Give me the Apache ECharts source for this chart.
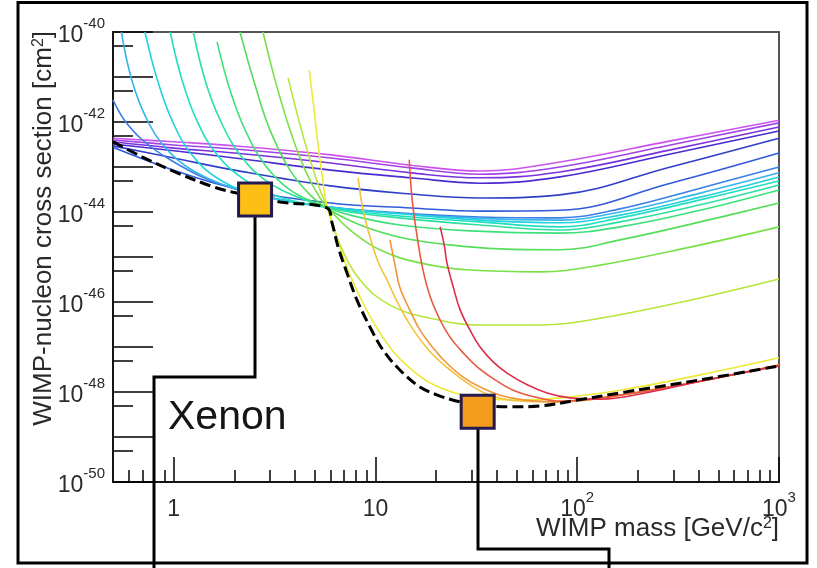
<!DOCTYPE html>
<html><head><meta charset="utf-8">
<script src="https://cdn.jsdelivr.net/npm/echarts@6/dist/echarts.min.js"></script>
<style>html,body{margin:0;padding:0;background:#fff}#c{width:817px;height:568px}</style>
</head><body><div id="c"></div>
<script>
const FONT = '"Liberation Sans", Arial, Helvetica, sans-serif';

// ---- axis ticks / labels (mass in GeV/c^2, cross section exponent log10(cm^2)) ----
const xRange = [0.5, 1000];
const yRangeExp = [-50, -40];
const xMajorTicks = [1, 10, 100, 1000];
const xTickLabels = ['{b|1}', '{b|10}', '{b|10}{s|2}', '{b|10}{s|3}'];
const xMinorTicks = [0.6,0.7,0.8,0.9,2,3,4,5,6,7,8,9,20,30,40,50,60,70,80,90,200,300,400,500,600,700,800,900];
const yMajorExp = [-50,-49,-48,-47,-46,-45,-44,-43,-42,-41,-40];
const yLabelExp = [-50,-48,-46,-44,-42,-40];
const yMinorSigma = [5e-50,5e-49,5e-48,5e-47,5e-46,5e-45,5e-44,5e-43,5e-42,5e-41];

// ---- curves: [mass GeV, log10(sigma / cm^2)] ----
const f1 = [[0.5,-42.36],[1,-42.44],[2,-42.53],[6,-42.73],[15,-42.96],[33,-43.09],[82,-42.89],[290,-42.42],[1000,-41.96]];
const f2 = [[0.5,-42.40],[1,-42.51],[2,-42.60],[6,-42.80],[15,-43.02],[33,-43.16],[82,-43.00],[290,-42.51],[1000,-42.02]];
const f3 = [[0.5,-42.44],[1,-42.58],[2,-42.69],[6,-42.91],[15,-43.13],[33,-43.24],[82,-43.11],[290,-42.62],[1000,-42.11]];
const f4 = [[0.5,-42.49],[1,-42.64],[2,-42.80],[6,-43.07],[15,-43.24],[33,-43.36],[82,-43.22],[290,-42.71],[1000,-42.20]];
const f5 = [[0.5,-42.53],[1,-42.80],[2,-43.07],[6,-43.42],[15,-43.60],[33,-43.69],[82,-43.62],[290,-43.00],[1000,-42.36]];
const f6 = [[0.5,-42.56],[1,-43.07],[2,-43.47],[6,-43.80],[15,-43.91],[33,-43.98],[82,-43.96],[290,-43.36],[1000,-42.69]];
const b1 = [[0.5,-41.51],[0.57,-41.96],[0.7,-42.40],[0.96,-42.84],[1.5,-43.29],[2.7,-43.64],[6,-43.89],[13,-44.02],[33,-44.11],[82,-44.13],[163,-43.93],[407,-43.47],[1000,-43.00]];
const c1 = [[0.55,-40.00],[0.62,-41.07],[0.74,-41.96],[0.93,-42.62],[1.28,-43.11],[2.13,-43.51],[4.2,-43.80],[10.5,-44.00],[29,-44.13],[82,-44.18],[163,-44.00],[407,-43.58],[1000,-43.13]];
const t1 = [[0.72,-40.00],[0.83,-41.07],[0.98,-41.96],[1.23,-42.73],[1.7,-43.29],[2.68,-43.64],[5.3,-43.87],[13.2,-44.04],[33,-44.18],[82,-44.24],[163,-44.07],[407,-43.67],[1000,-43.22]];
const t2 = [[0.96,-40.00],[1.1,-41.07],[1.3,-41.96],[1.64,-42.73],[2.26,-43.29],[3.37,-43.67],[6,-43.91],[13.2,-44.09],[33,-44.22],[82,-44.33],[163,-44.13],[407,-43.73],[1000,-43.31]];
const t3 = [[1.25,-40.00],[1.43,-41.07],[1.7,-41.96],[2.13,-42.73],[2.84,-43.29],[4.23,-43.69],[6.7,-43.96],[13.2,-44.13],[33,-44.29],[82,-44.40],[163,-44.22],[407,-43.84],[1000,-43.40]];
const g1 = [[1.64,-40.22],[1.9,-41.29],[2.26,-42.18],[2.84,-42.96],[3.77,-43.51],[5.31,-43.84],[7.5,-44.07],[13.2,-44.29],[29.4,-44.42],[82,-44.47],[163,-44.33],[407,-43.96],[1000,-43.51]];
const g2 = [[2.13,-40.00],[2.53,-41.18],[3.0,-42.18],[3.77,-43.07],[4.74,-43.62],[5.96,-43.96],[8.39,-44.29],[13.2,-44.56],[23.4,-44.73],[41.5,-44.82],[82,-44.84],[163,-44.62],[407,-44.22],[1000,-43.80]];
const g3 = [[2.77,-40.00],[3.18,-41.07],[3.77,-42.18],[4.48,-43.07],[5.31,-43.69],[5.96,-43.96],[7.48,-44.40],[10.5,-44.84],[16.6,-45.13],[29.4,-45.29],[65.5,-45.33],[130,-45.18],[363,-44.78],[1000,-44.33]];
const yg1 = [[3.69,-41.02],[4.23,-42.07],[4.74,-42.84],[5.31,-43.51],[5.75,-43.89],[6.68,-44.73],[8.39,-45.51],[11.8,-46.07],[18.7,-46.36],[33,-46.51],[65.5,-46.51],[130,-46.36],[363,-45.96],[1000,-45.49]];
const y1 = [[4.69,-40.84],[4.96,-41.73],[5.19,-42.51],[5.44,-43.18],[5.75,-43.89],[6.16,-44.29],[6.68,-44.80],[7.48,-45.40],[8.39,-45.89],[9.95,-46.51],[12.1,-47.07],[14.8,-47.47],[18.7,-47.80],[24.8,-48.02],[33,-48.13],[52,-48.18],[82,-48.13],[163,-47.96],[407,-47.62],[1000,-47.24]];
const o1 = [[8.2,-43.24],[8.68,-43.96],[9.4,-44.56],[10.3,-45.11],[11.4,-45.51],[13.2,-46.11],[15.4,-46.62],[18.7,-47.11],[23.4,-47.51],[29.4,-47.84],[37,-48.07],[52,-48.20],[82,-48.22],[163,-48.07],[407,-47.76],[1000,-47.40]];
const o2 = [[11.8,-44.62],[12.5,-45.18],[13.2,-45.67],[14.8,-46.18],[16.6,-46.62],[19.3,-47.02],[22.6,-47.36],[27.2,-47.67],[33,-47.89],[41.5,-48.07],[55.2,-48.18],[82,-48.22],[163,-48.07],[407,-47.76],[1000,-47.40]];
const r1 = [[14.7,-42.84],[15.2,-43.73],[16.1,-44.56],[17.2,-45.29],[18.7,-45.89],[20.9,-46.40],[23.4,-46.78],[27.2,-47.13],[31.9,-47.44],[39.2,-47.73],[48.1,-47.96],[61.8,-48.11],[82,-48.20],[163,-48.07],[407,-47.76],[1000,-47.40]];
const r2 = [[20.9,-44.33],[21.9,-44.73],[22.6,-45.13],[24.3,-45.67],[26.3,-46.18],[29.4,-46.62],[33,-47.00],[38.3,-47.33],[44.9,-47.58],[56.5,-47.84],[70.9,-48.02],[92,-48.13],[130,-48.16],[230,-48.00],[407,-47.76],[1000,-47.42]];
const envelope = [[0.5,-42.44],[0.7,-42.78],[1.04,-43.13],[1.57,-43.44],[1.97,-43.56],[3.37,-43.78],[5.75,-43.91],[6.09,-44.24],[6.53,-44.78],[7.23,-45.36],[8.1,-45.96],[9.4,-46.56],[10.9,-47.07],[13.2,-47.51],[16.6,-47.89],[20.9,-48.09],[26.3,-48.22],[33,-48.29],[46.5,-48.33],[65.5,-48.31],[100,-48.18],[163,-48.02],[407,-47.73],[1000,-47.42]];

const curves = [f1,f2,f3,f4,f5,f6,b1,c1,t1,t2,t3,g1,g2,g3,yg1,y1,o1,o2,r1,r2];
const curveColors = ['#cc52ee','#a342e6','#7a32de','#4a2bcf','#2f3fc8','#2f5bd8','#3a80e6','#38b4ec','#22d2dc','#1fdfc0','#2ce0a0','#3ee07a','#54de5a','#7ae048','#b6e63c','#ecea36','#f2c23c','#f0963a','#e8583e','#dc2c4a'];

// annotation markers [mass, log10 sigma]
const markYellow = [2.53, -43.72];
const markOrange = [32.1, -48.44];

const L = Math.log10;
const toXY = arr => arr.map(p => [L(p[0]), p[1]]);

const series = curves.map((c, i) => ({
  type: 'line', data: toXY(c), xAxisIndex: 0, yAxisIndex: 0,
  showSymbol: false, smooth: 0.4, silent: true, z: 2,
  lineStyle: { color: curveColors[i], width: 1.6 }
}));
series.push({
  type: 'line', data: toXY(envelope), showSymbol: false, smooth: 0.35, silent: true, z: 3,
  lineStyle: { color: '#000', width: 3, type: [11, 5] }
});
series.push({
  type: 'scatter', data: [[L(markYellow[0]), markYellow[1]]], symbol: 'rect', symbolSize: 33, z: 6, clip: false,
  itemStyle: { color: '#FDBE16', borderColor: '#251a4f', borderWidth: 3, opacity: 1 }
});
series.push({
  type: 'scatter', data: [[L(markOrange[0]), markOrange[1]]], symbol: 'rect', symbolSize: 33, z: 6, clip: false,
  itemStyle: { color: '#F39C1E', borderColor: '#251a4f', borderWidth: 3, opacity: 1 }
});

const rich = {
  b: { fontSize: 23, fontFamily: FONT, color: '#2a2a2a', padding: [8, 0, 0, 0], verticalAlign: 'bottom' },
  s: { fontSize: 15, fontFamily: FONT, color: '#2a2a2a', verticalAlign: 'top' }
};

const xMin = L(xRange[0]), xMax = L(xRange[1]);
const option = {
  animation: false,
  backgroundColor: '#fff',
  grid: { left: 113, right: 38, top: 32, bottom: 86, show: true, borderColor: '#555', borderWidth: 2, containLabel: false, outerBoundsMode: 'none' },
  xAxis: [
    { type: 'value', position: 'bottom', min: xMin, max: xMax, splitLine: { show: false },
      axisLine: { show: true, onZero: false, lineStyle: { color: '#000', width: 1.5 } },
      axisTick: { show: true, inside: true, length: 25, customValues: xMajorTicks.map(L), lineStyle: { color: '#000', width: 1.5 } },
      axisLabel: { show: true, margin: 8, customValues: xMajorTicks.map(L),
        formatter: v => { const i = xMajorTicks.findIndex(t => Math.abs(L(t) - v) < 1e-6); return i < 0 ? '' : xTickLabels[i]; },
        rich: rich } },
    { type: 'value', position: 'bottom', min: xMin, max: xMax, splitLine: { show: false },
      axisLine: { show: false, onZero: false }, axisLabel: { show: false },
      axisTick: { show: true, inside: true, length: 12, customValues: xMinorTicks.map(L), lineStyle: { color: '#000', width: 1.5 } } }
  ],
  yAxis: [
    { type: 'value', position: 'left', min: yRangeExp[0], max: yRangeExp[1], splitLine: { show: false },
      axisLine: { show: true, onZero: false, lineStyle: { color: '#000', width: 1.5 } },
      axisTick: { show: true, inside: true, length: 40, customValues: yMajorExp, lineStyle: { color: '#000', width: 1.5 } },
      axisLabel: { show: true, margin: 8, customValues: yLabelExp,
        formatter: v => '{b|10}{s|' + Math.round(v) + '}', rich: rich } },
    { type: 'value', position: 'left', min: yRangeExp[0], max: yRangeExp[1], splitLine: { show: false },
      axisLine: { show: false, onZero: false }, axisLabel: { show: false },
      axisTick: { show: true, inside: true, length: 20, customValues: yMinorSigma.map(L), lineStyle: { color: '#000', width: 1.5 } } }
  ],
  series: series
};

const chart = echarts.init(document.getElementById('c'), null, { renderer: 'canvas' });
chart.setOption(option);

const py = chart.convertToPixel({ gridIndex: 0 }, [L(markYellow[0]), markYellow[1]]);
const po = chart.convertToPixel({ gridIndex: 0 }, [L(markOrange[0]), markOrange[1]]);
const titleRich = { s: { fontSize: 16, fontFamily: FONT, fill: '#2a2a2a', verticalAlign: 'top', padding: [0,0,6,0] } };
chart.setOption({
  graphic: [
    { type: 'rect', z: 1, silent: true, shape: { x: 18, y: 2.5, width: 789, height: 560.5 },
      style: { fill: null, stroke: '#000', lineWidth: 3 } },
    { type: 'polyline', z: 4, silent: true, shape: { points: [[Math.round(py[0]), py[1]], [Math.round(py[0]), 377], [154, 377], [154, 575]] },
      style: { fill: null, stroke: '#000', lineWidth: 3 } },
    { type: 'polyline', z: 4, silent: true, shape: { points: [[Math.round(po[0]), po[1]], [Math.round(po[0]), 549], [609, 549], [609, 575]] },
      style: { fill: null, stroke: '#000', lineWidth: 3 } },
    { type: 'text', z: 5, silent: true, x: 168, y: 418,
      style: { text: 'Xenon', font: '41px ' + FONT, fill: '#151515', align: 'left', verticalAlign: 'middle' } },
    { type: 'text', z: 5, silent: true, x: 779, y: 516,
      style: { text: 'WIMP mass [GeV/c{s|2}]', font: '26px ' + FONT, fill: '#2a2a2a', align: 'right', verticalAlign: 'top', rich: titleRich } },
    { type: 'text', z: 5, silent: true, x: 44, y: 31, rotation: Math.PI / 2,
      style: { text: 'WIMP-nucleon cross section [cm{s|2}]', font: '26px ' + FONT, fill: '#2a2a2a', align: 'right', verticalAlign: 'middle', rich: titleRich } }
  ]
});
</script></body></html>
